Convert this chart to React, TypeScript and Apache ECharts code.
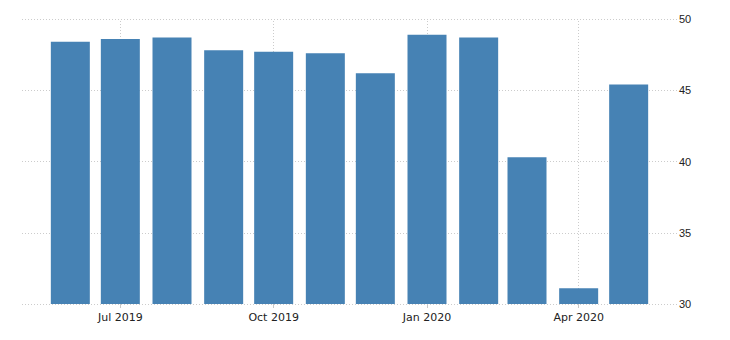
import React, { useEffect, useRef } from "react";
import * as echarts from "echarts";

const ts = (y: number, m: number, d: number) => Date.UTC(y, m - 1, d);

// Monthly observations (first of each month)
const months: number[] = [
  ts(2019, 6, 1), ts(2019, 7, 1), ts(2019, 8, 1), ts(2019, 9, 1),
  ts(2019, 10, 1), ts(2019, 11, 1), ts(2019, 12, 1), ts(2020, 1, 1),
  ts(2020, 2, 1), ts(2020, 3, 1), ts(2020, 4, 1), ts(2020, 5, 1),
];
const values: number[] = [48.4, 48.6, 48.7, 47.8, 47.7, 47.6, 46.2, 48.9, 48.7, 40.3, 31.1, 45.4];

// X axis tick positions and labels
const tickDates: number[] = [ts(2019, 7, 1), ts(2019, 10, 1), ts(2020, 1, 1), ts(2020, 4, 1)];
const tickLabels: string[] = ["Jul 2019", "Oct 2019", "Jan 2020", "Apr 2020"];

// Y axis
const yMin = 30;
const yMax = 50;
const yStep = 5;

const xMin = ts(2019, 5, 3);
const xMax = ts(2020, 5, 30);

export default function App() {
  const ref = useRef<HTMLDivElement>(null);

  useEffect(() => {
    document.body.style.margin = "0";
    if (!ref.current) return;
    const chart = echarts.init(ref.current, null, { renderer: "svg" });
    const labelFor = (v: number) => {
      const i = tickDates.indexOf(v);
      return i >= 0 ? tickLabels[i] : "";
    };
    chart.setOption({
      animation: false,
      grid: { left: 22, right: 53, top: 19, height: 285, containLabel: false },
      xAxis: {
        type: "value",
        min: xMin,
        max: xMax,
        axisLine: { show: false },
        axisTick: {
          show: true,
          customValues: tickDates,
          length: 4,
          lineStyle: { color: "#c8c8c8", width: 1 },
        },
        axisLabel: {
          customValues: tickDates,
          formatter: (v: number) => labelFor(v),
          color: "#222",
          fontSize: 11,
          fontFamily: "DejaVu Sans",
          margin: 8,
        },
        splitLine: { show: false },
      },
      yAxis: {
        type: "value",
        position: "right",
        min: yMin,
        max: yMax,
        interval: yStep,
        axisLine: { show: false },
        axisTick: { show: false },
        axisLabel: {
          color: "#222",
          fontSize: 11,
          fontFamily: "Liberation Sans",
          margin: 2,
        },
        splitLine: { lineStyle: { color: "#cccccc", type: [1, 2], width: 1 } },
      },
      series: [
        {
          type: "bar",
          z: 3,
          barWidth: 39,
          itemStyle: { color: "#4682b4" },
          data: months.map((m, i) => [m, values[i]]),
          markLine: {
            silent: true,
            symbol: ["none", "none"],
            z: 1,
            label: { show: false },
            lineStyle: { color: "#cccccc", type: [1, 2], width: 1 },
            data: tickDates.map((d) => ({ xAxis: d })),
          },
        },
      ],
    });
    return () => chart.dispose();
  }, []);

  return (
    <div
      ref={ref}
      style={{ position: "absolute", left: 0, top: 0, width: 730, height: 340 }}
    />
  );
}
